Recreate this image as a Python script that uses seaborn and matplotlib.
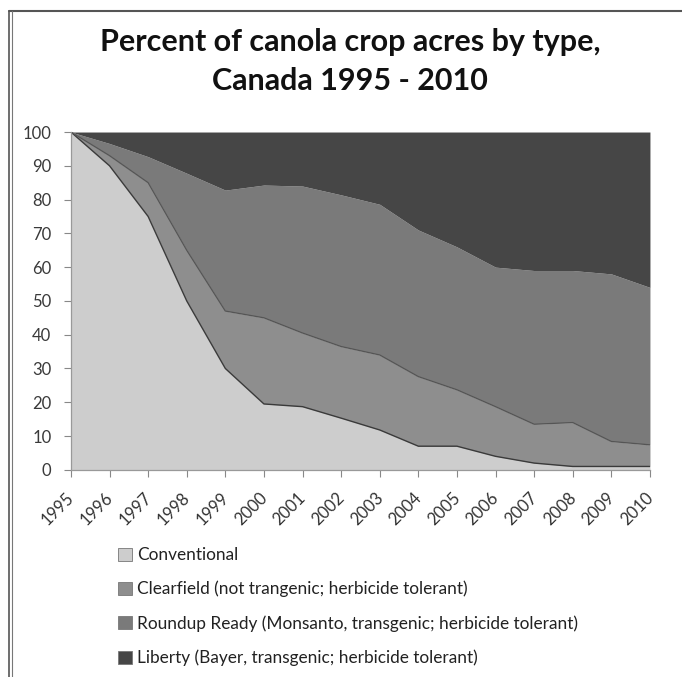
import numpy as np
import pandas as pd
import matplotlib
matplotlib.use("Agg")
import matplotlib.pyplot as plt
import matplotlib.transforms as mtransforms
import seaborn as sns
from matplotlib.patches import Rectangle
from matplotlib.lines import Line2D

years = [1995, 1996, 1997, 1998, 1999, 2000, 2001, 2002, 2003,
         2004, 2005, 2006, 2007, 2008, 2009, 2010]
conventional = [100, 90, 75, 50, 30, 19.5, 18.7, 15.3, 11.8, 7, 7, 4, 2, 1, 1, 1]
clearfield = [0, 3, 10, 15, 17, 25.5, 21.8, 21.2, 22.2, 20.6, 16.7, 14.7, 11.5, 13, 7.4, 6.4]
roundup = [0, 3.6, 7.7, 22.8, 35.8, 39.3, 43.5, 44.9, 44.6, 43.4, 42.3, 41.3, 45.5, 45, 49.6, 46.6]
liberty = [0, 3.4, 7.3, 12.2, 17.2, 15.7, 16, 18.6, 21.4, 29, 34, 40, 41, 41, 42, 46]
series_names = ["Conventional",
                "Clearfield (not trangenic; herbicide tolerant)",
                "Roundup Ready (Monsanto, transgenic; herbicide tolerant)",
                "Liberty (Bayer, transgenic; herbicide tolerant)"]
title = "Percent of canola crop acres by type,\nCanada 1995 - 2010"
yticks = [0, 10, 20, 30, 40, 50, 60, 70, 80, 90, 100]

sns.set_style("white")
plt.rcParams['font.family'] = ['Lato', 'DejaVu Sans']

colors = ["#cdcdcd", "#8e8e8e", "#7a7a7a", "#464646"]

fig = plt.figure(figsize=(6.82, 6.77), dpi=100)
ax = fig.add_axes([0.104, 0.306, 0.849, 0.499])

vals = np.array([conventional, clearfield, roundup, liberty])
ax.stackplot(years, vals, colors=colors, linewidth=0)

cum = np.cumsum(vals, axis=0)
df = pd.DataFrame({"year": years, "c1": cum[0], "c2": cum[1], "c3": cum[2]})
sns.lineplot(data=df, x="year", y="c1", ax=ax, color="#3a3a3a", linewidth=1.0)
sns.lineplot(data=df, x="year", y="c2", ax=ax, color="#555555", linewidth=0.9)

ax.set_xlim(years[0], years[-1])
ax.set_ylim(0, 100)
ax.set_yticks(yticks)
ax.set_yticklabels([str(v) for v in yticks], fontsize=12, color="#3a3a3a")
ax.set_xticks(years)
ax.set_xticklabels([str(y) for y in years], rotation=45, ha="right",
                   rotation_mode="anchor", fontsize=12, color="#333333")
ax.set_xlabel("")
ax.set_ylabel("")
ax.tick_params(axis="both", length=5, width=0.8, color="#888888", direction="out",
               left=True, bottom=True)
ax.tick_params(axis="y", pad=9)
ax.tick_params(axis="x", pad=9)
offset = mtransforms.ScaledTranslation(-5 / 100, 0, fig.dpi_scale_trans)
for lab in ax.get_xticklabels():
    lab.set_transform(lab.get_transform() + offset)
for side in ["top", "right"]:
    ax.spines[side].set_visible(False)
for side in ["left", "bottom"]:
    ax.spines[side].set_color("#999999")
    ax.spines[side].set_linewidth(0.9)

fig.text(0.513, 0.909, title, ha="center", va="center", fontsize=22,
         fontweight="bold", linespacing=1.5, color="#111111")

handles = [Rectangle((0, 0), 1, 1, facecolor=c, edgecolor="#777777", linewidth=0.6)
           for c in colors]
fig.legend(handles, series_names, loc="upper left", bbox_to_anchor=(0.158, 0.207),
           frameon=False, fontsize=12.4, handlelength=0.8, handleheight=0.8,
           handletextpad=0.3, labelspacing=1.03, labelcolor="#222222",
           borderaxespad=0.2)

# chart border (top line and double left line)
fig.add_artist(Line2D([0.013, 1.0], [0.984, 0.984], color="#555555", linewidth=1.5))
fig.add_artist(Line2D([0.013, 0.013], [0.0, 0.984], color="#555555", linewidth=1.2))
fig.add_artist(Line2D([0.018, 0.018], [0.0, 0.984], color="#777777", linewidth=0.8))

fig.savefig("out.png", dpi=100, facecolor="white")
